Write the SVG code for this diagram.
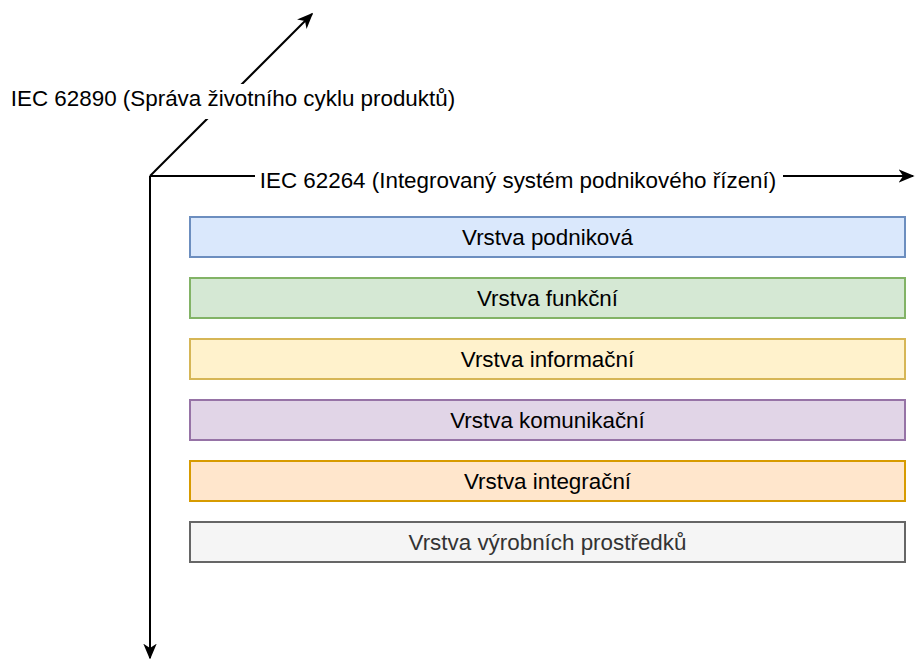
<svg xmlns="http://www.w3.org/2000/svg" width="915" height="659" viewBox="0 0 915 659">
  <style>
    text { font-family: "Liberation Sans", Arial, Helvetica, sans-serif; font-size: 22.4px; fill: #000; }
    .lbl { text-anchor: middle; }
    .axis { fill: none; stroke: #000; stroke-width: 2; }
    .layer rect { stroke-width: 2; }
  </style>
  <defs>
    <marker id="arrow" viewBox="0 0 10 10" refX="9" refY="5" markerWidth="16" markerHeight="16" markerUnits="userSpaceOnUse" orient="auto">
      <path d="M0,0.8 L10,5 L0,9.2 L2.8,5 Z" fill="#000"/>
    </marker>
  </defs>
  <rect width="915" height="659" fill="#fff"/>

  <!-- axes -->
  <g id="connectors">
    <path class="axis" d="M150,176 L150,658" marker-end="url(#arrow)"/>
    <path class="axis" d="M150,176 L913,176" marker-end="url(#arrow)"/>
    <path class="axis" d="M150,176 L312,14" marker-end="url(#arrow)"/>
  </g>

  <!-- axis labels with background -->
  <g id="label-lifecycle">
    <rect x="6" y="84" width="454" height="35" fill="#fff"/>
    <text class="lbl" x="233" y="106">IEC 62890 (Správa životního cyklu produktů)</text>
  </g>
  <g id="label-enterprise">
    <rect x="255" y="166" width="528" height="28" fill="#fff"/>
    <text class="lbl" x="518" y="188">IEC 62264 (Integrovaný systém podnikového řízení)</text>
  </g>

  <!-- layers -->
  <g id="layer-business" class="layer">
    <rect x="190" y="217" width="715" height="40" fill="#dae8fc" stroke="#6c8ebf"/>
    <text class="lbl" x="547.5" y="245">Vrstva podniková</text>
  </g>
  <g id="layer-function" class="layer">
    <rect x="190" y="278" width="715" height="40" fill="#d5e8d4" stroke="#82b366"/>
    <text class="lbl" x="547.5" y="306">Vrstva funkční</text>
  </g>
  <g id="layer-information" class="layer">
    <rect x="190" y="339" width="715" height="40" fill="#fff2cc" stroke="#d6b656"/>
    <text class="lbl" x="547.5" y="367">Vrstva informační</text>
  </g>
  <g id="layer-communication" class="layer">
    <rect x="190" y="400" width="715" height="40" fill="#e1d5e7" stroke="#9673a6"/>
    <text class="lbl" x="547.5" y="428">Vrstva komunikační</text>
  </g>
  <g id="layer-integration" class="layer">
    <rect x="190" y="461" width="715" height="40" fill="#ffe6cc" stroke="#d79b00"/>
    <text class="lbl" x="547.5" y="489">Vrstva integrační</text>
  </g>
  <g id="layer-asset" class="layer">
    <rect x="190" y="522" width="715" height="40" fill="#f5f5f5" stroke="#666666"/>
    <text class="lbl" x="547.5" y="550" style="fill:#333333">Vrstva výrobních prostředků</text>
  </g>
</svg>
